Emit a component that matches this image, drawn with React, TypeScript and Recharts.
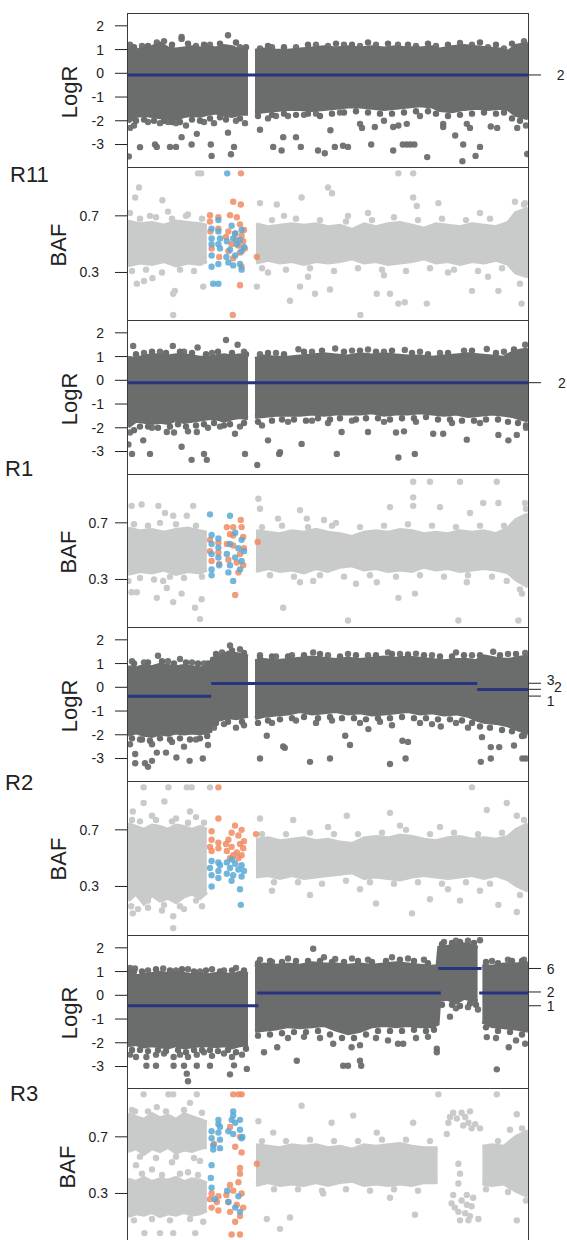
import { ComposedChart, Area, Line, Scatter, XAxis, YAxis } from 'recharts'

type Pt = [number, number]
type Band = [number, number | null, number | null]
type Seg = [number, number, number]

const SAMPLES = ['R11', 'R1', 'R2', 'R3']
const LOGR_TICKS = [-3, -2, -1, 0, 1, 2]
const BAF_TICKS = [0.3, 0.7]
const LOGR_DOMAIN = [-3.93, 2.54]
const BAF_DOMAIN = [-0.04, 1.045]

// ---------- R11 ----------
const R11_LOGR_BAND: Band[] = [
  [0, -2.05, 1.05], [2, -1.8, 0.95], [4, -1.75, 1.05], [6, -1.8, 1.1], [8, -1.85, 1.25], [10, -1.85, 1.05],
  [12, -1.9, 1.0], [14, -1.8, 1.05], [16, -1.75, 1.1], [18, -1.8, 1.05], [20, -1.7, 1.1], [22, -1.65, 1.05],
  [24, -1.75, 1.15], [26, -1.8, 1.1], [28, -1.7, 0.95], [30, -1.7, 0.95], [30.9, null, null],
  [31.75, -1.65, 0.95], [34, -1.6, 1.0], [37, -1.55, 0.95], [40, -1.5, 0.95], [43, -1.5, 1.0], [46, -1.55, 1.05],
  [49, -1.5, 1.1], [52, -1.45, 1.05], [55, -1.4, 1.1], [58, -1.4, 1.05], [61, -1.45, 1.1], [64, -1.5, 1.05],
  [67, -1.45, 1.1], [70, -1.4, 1.05], [73, -1.35, 1.05], [76, -1.4, 1.1], [78, -1.55, 1.0], [81, -1.6, 1.1],
  [84, -1.5, 1.15], [87, -1.45, 1.1], [90, -1.5, 1.05], [93, -1.45, 1.0], [95, -1.5, 0.9], [97, -1.75, 1.15],
  [100, -1.9, 1.25],
]
const R11_LOGR_PTS: Pt[] = [
  [0.5, 1.2], [3.5, 1.15], [7.2, 1.3], [9, 1.35], [13.4, 1.53], [13.4, 1.45], [17, 1.15], [20.5, 1.2], [25, 1.6],
  [28, 1.1], [33, 1.05], [36, 1.1], [42, 1.1], [47, 1.2], [50, 1.15], [54, 1.2], [58, 1.15], [62, 1.2], [67.5, 1.2],
  [72, 1.15], [77, 1.15], [83, 1.28], [86, 1.2], [90, 1.1], [94, 1.05], [99, 1.35],
  [0.5, -2.3], [1.5, -2.2], [5, -2.05], [8, -2.1], [10, -2.05], [12, -2.1], [14.5, -2.2], [17.2, -2.55], [19, -2.05],
  [21.5, -2.1], [25, -2.5], [27, -2.0], [29.25, -2.1], [33, -2.38], [35, -1.9], [37, -1.8], [40, -1.8], [44, -1.75],
  [47, -1.7], [50.6, -2.4], [53, -1.65], [58, -2.13], [58.5, -2.3], [61.7, -2.26], [64, -2.0], [66.3, -2.26],
  [67.6, -2.2], [69.7, -2.13], [73, -1.8], [78.8, -2.26], [78.8, -2.13], [81.8, -2.62], [84.7, -2.13], [85.5, -2.3],
  [90.7, -2.24], [92.3, -2.3], [97.3, -2.3], [99.5, -2.2],
  [0.2, -3.5], [3, -3.11], [6.75, -3.0], [7.2, -3.1], [10.5, -3.1], [12, -3.1], [13.4, -2.69], [15.9, -3.0],
  [20.7, -3.0], [20.9, -3.48], [25.75, -3.41], [26.5, -3.1], [36.3, -3.1], [38.4, -3.25], [38.8, -2.69], [42, -2.69],
  [43.2, -3.1], [47.5, -3.25], [49.2, -3.37], [51.7, -3.1], [53.75, -3.05], [55, -3.1], [60.8, -3.0], [66.3, -3.25],
  [68.7, -3.0], [69.7, -3.0], [70.6, -3.0], [71.6, -3.0], [74.8, -3.53], [83.6, -3.7], [86.9, -3.48], [83.8, -3.0],
  [88, -3.1], [99.8, -3.4],
]
const R11_LOGR_EDGE: Pt[] = [
  [1.5, 1.1], [5, 1.15], [11, 1.2], [15, 1.25], [19, 1.2], [23, 1.25], [27, 1.3], [29.5, 1.1], [35, 1.15],
  [39, 1.1], [45, 1.2], [52, 1.25], [56, 1.2], [60, 1.3], [65, 1.25], [70, 1.2], [75, 1.25], [80, 1.2], [88, 1.3],
  [92, 1.2], [96, 1.25],
  [2, -2.0], [4, -1.95], [6.5, -2.0], [9, -2.0], [11, -2.05], [13, -2.05], [16, -1.95], [18, -2.0], [20.5, -1.9],
  [23, -1.85], [24.5, -1.95], [28, -1.9], [32.5, -1.8], [36, -1.75], [39, -1.7], [42, -1.75], [45, -1.7], [48, -1.8],
  [51, -1.7], [54, -1.65], [57, -1.6], [60, -1.65], [63, -1.7], [66, -1.7], [69, -1.65], [72, -1.6], [75, -1.6],
  [77, -1.7], [80, -1.8], [83, -1.75], [86, -1.7], [89, -1.65], [92, -1.7], [94, -1.65], [96, -1.9], [98, -2.0],
]
const R11_SEGS: Seg[] = [[0, 100, -0.07]]
const R11_CN_VALUES = [-0.07]
const R11_CN_LABELS = ['2']
const R11_BAF_BAND: Band[] = [
  [0, 0.35, 0.66], [3, 0.37, 0.64], [6, 0.36, 0.65], [9, 0.38, 0.63], [12, 0.35, 0.66], [15, 0.37, 0.65],
  [18, 0.36, 0.64], [19.7, 0.38, 0.63], [25, null, null],
  [32, 0.37, 0.64], [35, 0.39, 0.62], [38, 0.37, 0.63], [41, 0.38, 0.64], [44, 0.36, 0.63], [47, 0.38, 0.64],
  [50, 0.37, 0.62], [53, 0.38, 0.63], [56, 0.4, 0.6], [59, 0.37, 0.64], [62, 0.38, 0.62], [65, 0.36, 0.64],
  [68, 0.37, 0.65], [71, 0.38, 0.63], [74, 0.4, 0.61], [77, 0.37, 0.64], [80, 0.38, 0.63], [83, 0.36, 0.62],
  [86, 0.38, 0.64], [89, 0.37, 0.63], [92, 0.39, 0.62], [95, 0.36, 0.65], [97, 0.3, 0.72], [100, 0.27, 0.75],
]
const R11_BAF_PTS: Pt[] = [
  [17.5, 1.0], [18.3, 1.0], [2.75, 0.9], [8.6, 0.81], [1.8, 0.83], [11.3, 0.0], [11.3, 0.15], [11.7, 0.17],
  [2.2, 0.22], [4.0, 0.24], [6.1, 0.26], [18.8, 0.2], [32.2, 0.2], [33, 0.79], [37.2, 0.78], [0.5, 0.72],
  [5.5, 0.7], [10, 0.73], [15, 0.71], [67.6, 1.0], [71.3, 1.0], [50, 0.9], [51, 0.86], [43.4, 0.83], [71.3, 0.83],
  [72.2, 0.77], [77.6, 0.79], [96.75, 0.8], [99.25, 0.79], [58.1, 0.0], [40.5, 0.1], [46.75, 0.15], [50.5, 0.18],
  [62.2, 0.15], [65.5, 0.15], [67.6, 0.08], [69.2, 0.09], [74.7, 0.08], [86, 0.17], [92.6, 0.17], [98.4, 0.08],
  [43, 0.2], [45, 0.27], [55, 0.7], [60, 0.72], [64, 0.28], [80, 0.3], [88, 0.72], [90, 0.27], [35, 0.3], [39, 0.7],
]
const R11_BAF_EDGE: Pt[] = [
  [1, 0.31], [3, 0.68], [4.5, 0.32], [7, 0.69], [8.5, 0.3], [11, 0.68], [13, 0.32], [14.5, 0.7], [16.5, 0.31],
  [18.5, 0.68], [33.5, 0.33], [36, 0.67], [39.5, 0.32], [42, 0.68], [45.5, 0.33], [48, 0.67], [51.5, 0.31],
  [54.5, 0.66], [57.5, 0.33], [61, 0.67], [63.5, 0.32], [66.5, 0.69], [69.5, 0.31], [72.5, 0.67], [75.5, 0.33],
  [78.5, 0.68], [81.5, 0.32], [84.5, 0.67], [87.5, 0.31], [90.5, 0.68], [93.5, 0.33], [98, 0.22], [99, 0.78],
]
const R11_ORANGE: Pt[] = [
  [20.5, 0.705], [22.6, 0.69], [20.5, 0.66], [22.6, 0.61], [20.6, 0.59], [20.9, 0.47], [22.8, 0.41], [26.3, 0.8],
  [28.2, 0.78], [25.5, 0.705], [27.2, 0.69], [28, 0.64], [25.1, 0.59], [26.8, 0.575], [28.4, 0.56], [28.8, 0.52],
  [25.9, 0.5], [27.6, 0.49], [29.2, 0.47], [25.1, 0.45], [28, 0.44], [26.3, 0.4], [28.4, 0.34], [28, 0.21],
  [26.2, 0.0], [28.25, 1.0], [32.2, 0.41], [24.5, 0.55], [27, 0.53], [29, 0.6],
]
const R11_BLUE: Pt[] = [
  [22.6, 0.67], [20.9, 0.61], [22.6, 0.59], [20.9, 0.54], [23, 0.54], [23, 0.47], [20.9, 0.42], [22.6, 0.36],
  [20.9, 0.34], [21.3, 0.22], [22.6, 0.22], [20.9, 0.5], [22.6, 0.5], [24.8, 1.0], [25.9, 0.63], [28.4, 0.6],
  [26.3, 0.54], [28, 0.53], [24.7, 0.52], [27.2, 0.5], [25.5, 0.46], [28.4, 0.45], [26.8, 0.42], [25.1, 0.37],
  [28, 0.36], [26.3, 0.35], [28.4, 0.32], [26.8, 0.575], [29, 0.48], [24.6, 0.41],
]

// ---------- R1 ----------
const R1_LOGR_BAND: Band[] = [
  [0, -1.95, 0.95], [2, -1.7, 0.9], [4, -1.75, 1.0], [6, -1.8, 1.05], [8, -1.75, 1.05], [10, -1.8, 1.0],
  [12, -1.65, 1.05], [14, -1.75, 1.05], [16, -1.7, 1.0], [18, -1.65, 0.95], [20, -1.6, 0.95], [22, -1.6, 1.0],
  [24, -1.7, 1.05], [26, -1.6, 1.0], [28, -1.55, 1.05], [30, -1.6, 0.95], [30.9, null, null],
  [31.75, -1.55, 0.9], [34, -1.5, 1.0], [37, -1.45, 0.95], [40, -1.45, 0.95], [43, -1.45, 1.0], [46, -1.4, 1.05],
  [49, -1.45, 1.1], [52, -1.4, 1.05], [55, -1.4, 1.0], [58, -1.4, 1.1], [61, -1.35, 1.05], [64, -1.45, 1.1],
  [67, -1.4, 1.05], [70, -1.4, 1.0], [73, -1.35, 1.0], [76, -1.4, 0.95], [79, -1.45, 1.0], [82, -1.4, 1.05],
  [85, -1.5, 1.1], [88, -1.45, 1.05], [91, -1.4, 1.0], [94, -1.45, 0.95], [96, -1.5, 1.15], [98, -1.6, 1.25],
  [100, -1.7, 1.3],
]
const R1_LOGR_PTS: Pt[] = [
  [1.3, 1.45], [4, 1.15], [8, 1.2], [11.2, 1.45], [14, 1.2], [17.4, 1.38], [21, 1.15], [24.5, 1.7], [27.4, 1.5],
  [29, 1.2], [33, 1.1], [37, 1.15], [42.6, 1.31], [46, 1.2], [51.8, 1.34], [56, 1.25], [60, 1.3], [64, 1.2],
  [69.2, 1.28], [73, 1.2], [78, 1.15], [84, 1.25], [89.7, 1.32], [94, 1.2], [99.3, 1.5],
  [0.1, -2.7], [0.5, -2.2], [3.8, -2.53], [6, -2.0], [9.7, -2.18], [11.5, -2.2], [13.4, -2.8], [15, -2.15],
  [17.2, -2.18], [20, -2.0], [23, -1.95], [26.75, -2.25], [28, -1.95], [35, -2.53], [33.5, -1.9], [40, -1.75],
  [43.4, -2.68], [46, -1.7], [50, -1.8], [53.4, -2.18], [56, -1.7], [60, -2.18], [64, -1.75], [67, -2.2],
  [69, -2.15], [72, -1.75], [76.3, -2.25], [78.8, -2.25], [81, -1.8], [84.7, -2.5], [88, -1.8], [92.6, -2.3],
  [95.1, -2.53], [97.2, -2.3], [99.5, -2.0],
  [1, -3.1], [5.5, -3.1], [15.9, -3.35], [19, -3.1], [19.7, -3.35], [29.25, -3.1], [32.3, -3.57], [37.8, -3.1],
  [38, -3.03], [52.2, -3.1], [67.6, -3.25], [71.7, -3.1],
]
const R1_LOGR_EDGE: Pt[] = [
  [2, 1.1], [6, 1.2], [9.5, 1.15], [13, 1.2], [16, 1.15], [19.5, 1.1], [22.5, 1.2], [26, 1.15], [29.5, 1.1],
  [35, 1.15], [39, 1.1], [44, 1.2], [48.5, 1.25], [54, 1.2], [58, 1.25], [62, 1.2], [66, 1.25], [71, 1.15],
  [75, 1.1], [80, 1.15], [86, 1.25], [92, 1.15], [96.5, 1.3],
  [1.5, -2.1], [3, -1.95], [5, -1.95], [7.5, -2.0], [10.5, -1.95], [12.5, -1.85], [14.5, -1.95], [17, -1.9],
  [19, -1.85], [21.5, -1.8], [24, -1.9], [25.5, -1.85], [29, -1.8], [32.5, -1.75], [36, -1.7], [38.5, -1.65],
  [41.5, -1.65], [44.5, -1.7], [47.5, -1.6], [50.5, -1.65], [53, -1.6], [57, -1.65], [59.5, -1.6], [62.5, -1.6],
  [65.5, -1.65], [68.5, -1.6], [71.5, -1.6], [74.5, -1.55], [77.5, -1.65], [80.5, -1.65], [83.5, -1.7],
  [86.5, -1.7], [89.5, -1.65], [92.5, -1.65], [95, -1.75], [97.5, -1.8], [99.5, -1.9],
]
const R1_SEGS: Seg[] = [[0, 100, -0.1]]
const R1_CN_VALUES = [-0.1]
const R1_CN_LABELS = ['2']
const R1_BAF_BAND: Band[] = [
  [0, 0.34, 0.66], [3, 0.36, 0.64], [6, 0.35, 0.65], [9, 0.37, 0.63], [12, 0.34, 0.65], [15, 0.36, 0.66],
  [18, 0.35, 0.64], [19.7, 0.37, 0.63], [25, null, null],
  [32, 0.36, 0.64], [35, 0.38, 0.63], [38, 0.36, 0.62], [41, 0.37, 0.64], [44, 0.35, 0.63], [47, 0.38, 0.65],
  [50, 0.36, 0.63], [53, 0.39, 0.62], [56, 0.4, 0.6], [59, 0.37, 0.63], [62, 0.38, 0.64], [65, 0.36, 0.63],
  [68, 0.37, 0.65], [71, 0.36, 0.64], [74, 0.39, 0.62], [77, 0.37, 0.63], [80, 0.38, 0.62], [83, 0.36, 0.64],
  [86, 0.37, 0.63], [89, 0.38, 0.64], [92, 0.37, 0.62], [95, 0.35, 0.66], [97, 0.3, 0.72], [100, 0.25, 0.76],
]
const R1_BAF_PTS: Pt[] = [
  [0.9, 0.82], [3.4, 0.83], [7.6, 0.82], [9.25, 0.77], [11.3, 0.75], [14.7, 0.75], [16.3, 0.82], [0.1, 0.29],
  [0.9, 0.21], [2.2, 0.21], [7.2, 0.17], [8.8, 0.29], [9.7, 0.24], [11.3, 0.14], [13.4, 0.2], [16.75, 0.1],
  [18, 0.02], [18.4, 0.16], [32.6, 0.87], [33, 0.8], [37.5, 0.73], [38.8, 0.1], [71.3, 0.99], [75.5, 0.99],
  [83, 0.99], [92.2, 0.99], [55, 0.01], [82.6, 0.01], [97.6, 0.01], [67.6, 0.17], [71.75, 0.2], [71.3, 0.88],
  [71.3, 0.82], [65.5, 0.81], [78, 0.81], [85.5, 0.77], [88.8, 0.84], [92.6, 0.84], [99.25, 0.84], [43, 0.79],
  [44.7, 0.73], [43, 0.28], [46.3, 0.29], [62.2, 0.28], [84.7, 0.28], [94.7, 0.29], [98, 0.23], [49, 0.72],
  [57, 0.27], [52, 0.7],
]
const R1_BAF_EDGE: Pt[] = [
  [1.5, 0.69], [3, 0.31], [5, 0.68], [6.5, 0.3], [8, 0.7], [10.5, 0.32], [12, 0.69], [14, 0.31], [17, 0.68],
  [18.5, 0.32], [33.5, 0.67], [35.5, 0.33], [38.5, 0.68], [41.5, 0.32], [45, 0.67], [48, 0.33], [51, 0.68],
  [54, 0.32], [58, 0.67], [60.5, 0.33], [64, 0.68], [67, 0.32], [70, 0.69], [73, 0.33], [76, 0.68], [79, 0.32],
  [82, 0.67], [85, 0.33], [88, 0.68], [91, 0.32], [94, 0.68], [98.5, 0.2], [99.5, 0.8],
]
const R1_ORANGE: Pt[] = [
  [20.5, 0.58], [22.6, 0.56], [20.5, 0.5], [22.6, 0.49], [20.9, 0.43], [22.8, 0.41], [24.7, 0.67], [26.3, 0.67],
  [28.2, 0.72], [28.4, 0.67], [26.3, 0.61], [28.8, 0.6], [24.7, 0.55], [26.3, 0.54], [28, 0.48], [25.1, 0.44],
  [27.2, 0.42], [28.8, 0.4], [26.8, 0.19], [27.6, 0.35], [32.4, 0.565], [25.5, 0.62], [29, 0.52],
]
const R1_BLUE: Pt[] = [
  [20.5, 0.76], [20.9, 0.614], [22.6, 0.59], [20.9, 0.55], [22.6, 0.525], [20.9, 0.48], [22.6, 0.455],
  [20.9, 0.37], [20.9, 0.33], [25.5, 0.75], [26.8, 0.63], [28.4, 0.58], [25.5, 0.55], [27.6, 0.52], [24.7, 0.48],
  [26.8, 0.455], [28.4, 0.43], [25.5, 0.4], [28, 0.37], [26.3, 0.29], [25.1, 0.35], [22.8, 0.4], [29, 0.5],
]

// ---------- R2 ----------
const R2_LOGR_BAND: Band[] = [
  [0, -2.0, 0.85], [2, -1.9, 0.8], [4, -2.0, 0.9], [6, -2.05, 0.85], [8, -1.95, 0.95], [10, -2.0, 0.9],
  [12, -1.9, 0.85], [14, -1.95, 0.9], [16, -1.9, 0.85], [18, -1.95, 0.8], [20.6, -1.85, 0.85], [21, -1.3, 1.2],
  [23, -1.35, 1.3], [25, -1.25, 1.45], [27, -1.3, 1.4], [30, -1.2, 1.3], [30.9, null, null],
  [31.75, -1.3, 1.1], [34, -1.2, 1.15], [37, -1.15, 1.1], [40, -1.1, 1.15], [43, -1.0, 1.2], [46, -1.1, 1.25],
  [49, -1.05, 1.2], [52, -1.0, 1.15], [55, -1.1, 1.2], [58, -1.05, 1.15], [61, -1.15, 1.2], [64, -1.1, 1.25],
  [67, -1.05, 1.2], [70, -1.0, 1.25], [73, -1.1, 1.2], [76, -1.05, 1.15], [79, -1.15, 1.1], [82, -1.1, 1.15],
  [85, -1.2, 1.15], [87, -1.35, 1.1], [89, -1.45, 1.3], [92, -1.5, 1.2], [95, -1.6, 1.15], [98, -1.8, 1.25],
  [100, -1.95, 1.3],
]
const R2_LOGR_PTS: Pt[] = [
  [1, 1.1], [4, 1.05], [7.5, 1.33], [10, 1.1], [13, 1.19], [16, 1.05], [19, 1.0], [23.5, 1.47], [25.5, 1.76],
  [28, 1.6], [33, 1.35], [37, 1.3], [41, 1.35], [46.3, 1.47], [50, 1.35], [55, 1.4], [60, 1.35], [65, 1.47],
  [68, 1.4], [72, 1.42], [76, 1.35], [82, 1.47], [86, 1.35], [91.3, 1.5], [95, 1.4], [99.3, 1.45],
  [0.5, -2.4], [1.8, -2.81], [3, -2.2], [6, -2.4], [7.2, -2.75], [9.5, -2.75], [11, -2.3], [14, -2.5], [17, -2.2],
  [20, -2.43], [21.5, -1.7], [24, -1.55], [27, -1.7], [29, -1.6], [34.7, -2.04], [36, -1.5], [39.2, -2.55],
  [38.8, -2.49], [42, -1.4], [47, -1.5], [51, -1.4], [54.3, -2.04], [55.5, -2.43], [58, -1.5], [60.1, -1.76],
  [63, -1.45], [66, -1.6], [68.6, -2.25], [70, -2.3], [73, -1.5], [76, -1.55], [78.2, -1.65], [82, -1.5],
  [85, -1.7], [88.5, -2.1], [90.7, -2.52], [92.8, -2.52], [96.5, -2.45], [99, -2.04],
  [1.8, -3.2], [4.25, -3.2], [5, -3.35], [6, -3.1], [12.1, -2.96], [15.4, -3.1], [18.7, -3.0], [33, -3.0],
  [45.5, -3.14], [50.5, -3.0], [65.5, -3.23], [69.4, -3.0], [88.2, -3.14], [90.7, -3.0], [98.6, -3.0], [99.5, -3.0],
]
const R2_LOGR_EDGE: Pt[] = [
  [1.5, 1.0], [5, 1.05], [8.5, 1.1], [11.5, 1.0], [14.5, 1.05], [17.5, 1.0], [20, 1.0], [22, 1.4], [26, 1.55],
  [29, 1.45], [33, 1.25], [36, 1.3], [40, 1.3], [44, 1.35], [48, 1.4], [53, 1.3], [57, 1.35], [62, 1.35],
  [66, 1.4], [70, 1.38], [74, 1.35], [78, 1.3], [81, 1.3], [84, 1.35], [88, 1.35], [93, 1.35], [97, 1.4],
  [1, -2.15], [3.5, -2.2], [5.5, -2.25], [8, -2.15], [10.5, -2.2], [13, -2.15], [15.5, -2.2], [18, -2.15],
  [19.8, -2.05], [22, -1.5], [25, -1.45], [28.5, -1.45], [32.5, -1.5], [35, -1.4], [38, -1.35], [41, -1.3],
  [44, -1.25], [47.5, -1.3], [50.5, -1.25], [53.5, -1.3], [56.5, -1.3], [59.5, -1.35], [62.5, -1.3], [65.5, -1.3],
  [68.5, -1.25], [71.5, -1.3], [74.5, -1.3], [77.5, -1.35], [80.5, -1.35], [83.5, -1.4], [86, -1.5], [88, -1.65],
  [90.5, -1.7], [93.5, -1.8], [96, -1.85], [98.5, -2.05],
]
const R2_SEGS: Seg[] = [[0, 20.8, -0.38], [20.8, 87.3, 0.16], [87.3, 100, -0.09]]
const R2_CN_VALUES = [0.17, -0.085, -0.37]
const R2_CN_LABELS = ['3', '2', '1']
const R2_BAF_BAND: Band[] = [
  [0, 0.2, 0.74], [2, 0.25, 0.72], [4, 0.18, 0.7], [6, 0.24, 0.73], [8, 0.2, 0.72], [10, 0.22, 0.7],
  [12, 0.19, 0.73], [14, 0.23, 0.72], [16, 0.25, 0.7], [18, 0.22, 0.72], [19.7, 0.26, 0.7], [25, null, null],
  [32, 0.37, 0.63], [35, 0.38, 0.64], [38, 0.36, 0.62], [41, 0.38, 0.63], [44, 0.36, 0.64], [47, 0.37, 0.62],
  [50, 0.38, 0.63], [53, 0.39, 0.61], [56, 0.4, 0.6], [59, 0.36, 0.64], [62, 0.37, 0.65], [65, 0.36, 0.64],
  [68, 0.35, 0.66], [71, 0.37, 0.65], [74, 0.38, 0.63], [77, 0.37, 0.62], [80, 0.36, 0.64], [83, 0.37, 0.65],
  [86, 0.38, 0.63], [89, 0.36, 0.64], [92, 0.38, 0.63], [95, 0.35, 0.65], [97, 0.31, 0.7], [100, 0.27, 0.74],
]
const R2_BAF_PTS: Pt[] = [
  [3.9, 1.0], [10.1, 1.0], [14.7, 1.0], [15.9, 1.0], [20.5, 1.0], [3.9, 0.89], [9.1, 0.9], [1.2, 0.83],
  [15.5, 0.83], [11.3, 0.006], [11.3, 0.09], [1.2, 0.11], [0.8, 0.16], [2.5, 0.14], [6, 0.8], [12, 0.78],
  [17, 0.79], [5, 0.15], [8.5, 0.13], [14, 0.14], [18.5, 0.16], [86, 1.0], [94.7, 0.89], [89.7, 0.84],
  [97.2, 0.8], [65.5, 0.82], [54.7, 0.8], [41.3, 0.77], [71, 0.11], [62, 0.18], [75.5, 0.21], [92.6, 0.17],
  [97.2, 0.12], [45.5, 0.24], [83, 0.2], [33, 0.78], [36, 0.27], [50, 0.72], [58, 0.28], [68, 0.73], [78, 0.72],
  [80, 0.28], [88, 0.27],
]
const R2_BAF_EDGE: Pt[] = [
  [1, 0.77], [3, 0.76], [5, 0.2], [7, 0.77], [9, 0.17], [11, 0.76], [13, 0.16], [15, 0.75], [17, 0.2],
  [19, 0.75], [33.5, 0.67], [36.5, 0.33], [39.5, 0.67], [42.5, 0.33], [45.5, 0.68], [48.5, 0.32], [51.5, 0.67],
  [54.5, 0.34], [57.5, 0.67], [60.5, 0.33], [63.5, 0.68], [66.5, 0.32], [69.5, 0.7], [72.5, 0.33], [75.5, 0.67],
  [78.5, 0.32], [81.5, 0.68], [84.5, 0.33], [87.5, 0.67], [90.5, 0.32], [93.5, 0.68], [98, 0.24], [99, 0.77],
]
const R2_ORANGE: Pt[] = [
  [22.6, 1.0], [22.6, 0.78], [20.9, 0.69], [20.9, 0.63], [22.6, 0.61], [20.5, 0.58], [22.6, 0.57], [20.9, 0.55],
  [26.75, 0.73], [28.4, 0.7], [25.9, 0.68], [27.6, 0.66], [25.1, 0.63], [28, 0.6], [25.9, 0.58], [28.8, 0.57],
  [24.7, 0.55], [27.2, 0.54], [26.3, 0.52], [28.4, 0.52], [25.5, 0.5], [27.6, 0.5], [32, 0.67], [29, 0.62],
  [24.5, 0.6],
]
const R2_BLUE: Pt[] = [
  [20.9, 0.48], [22.6, 0.47], [20.5, 0.43], [22.6, 0.41], [20.9, 0.38], [22.6, 0.36], [20.9, 0.3], [24.7, 0.47],
  [26.8, 0.46], [28.4, 0.45], [25.5, 0.43], [27.6, 0.42], [24.7, 0.39], [26.3, 0.38], [28.4, 0.37], [25.9, 0.34],
  [28, 0.28], [28.2, 0.17], [23, 0.45], [29, 0.41], [26, 0.49],
]

// ---------- R3 ----------
const R3_LOGR_BAND: Band[] = [
  [0, -2.1, 1.1], [2, -2.05, 0.8], [4, -2.15, 0.85], [6, -2.1, 0.9], [8, -2.15, 0.95], [10, -2.2, 0.9],
  [12, -2.1, 0.95], [14, -2.2, 0.9], [16, -2.15, 0.85], [18, -2.1, 0.9], [20, -2.1, 0.85], [22, -2.15, 0.9],
  [24, -2.1, 0.9], [26, -2.2, 0.85], [28, -2.1, 0.95], [30, -2.05, 0.9], [30.9, null, null],
  [31.75, -1.5, 1.2], [34, -1.45, 1.3], [37, -1.4, 1.25], [40, -1.3, 1.3], [43, -1.35, 1.25], [46, -1.3, 1.35],
  [49, -1.25, 1.3], [52, -1.45, 1.3], [55, -1.6, 1.25], [58, -1.5, 1.3], [61, -1.3, 1.25], [64, -1.25, 1.3],
  [67, -1.3, 1.35], [70, -1.25, 1.3], [73, -1.3, 1.25], [76, -1.3, 1.2], [77.4, -1.2, 1.25], [77.8, -0.2, 2.0],
  [80, -0.15, 2.05], [82, -0.3, 2.1], [84, -0.1, 2.15], [86, -0.2, 2.1], [87.4, -0.25, 2.0], [88, null, null],
  [88.6, -1.1, 1.25], [91, -1.3, 1.2], [94, -1.35, 1.3], [97, -1.4, 1.3], [100, -1.5, 1.35],
]
const R3_LOGR_PTS: Pt[] = [
  [0.5, 1.15], [1.75, 1.13], [5, 1.05], [8.8, 1.13], [12, 1.05], [15, 1.1], [18, 1.0], [21, 1.1], [24, 1.05],
  [27, 1.15], [33, 1.5], [36, 1.4], [40, 1.55], [46.3, 1.96], [49, 1.6], [51.8, 1.53], [56, 1.55], [60, 1.5],
  [66, 1.6], [70, 1.55], [74, 1.5], [79, 2.25], [82, 2.3], [85, 2.3], [88, 2.32], [91, 1.45], [95, 1.5], [99, 1.5],
  [0.5, -2.5], [2, -2.6], [4.6, -2.6], [7, -2.5], [9, -2.45], [11.4, -2.6], [13, -2.5], [15, -2.6], [17.2, -2.5],
  [19, -2.4], [21, -2.55], [24, -2.45], [26, -2.6], [28.5, -2.5], [34, -2.4], [37.3, -2.19], [40, -1.8],
  [44, -1.75], [48, -1.8], [51.3, -2.04], [55.9, -2.19], [58, -2.1], [62, -1.8], [65, -1.9], [67.5, -2.04],
  [68.8, -2.04], [72, -1.8], [75, -1.75], [77.2, -2.25], [77.2, -2.4], [80.5, -0.9], [82, -0.55], [85, -0.5],
  [87.5, -0.6], [89.7, -1.76], [92, -1.8], [95.2, -2.19], [97, -1.9], [99.3, -2.04],
  [4.6, -2.97], [7, -2.97], [11.4, -2.97], [14, -2.97], [14.7, -3.3], [15, -3.62], [17.2, -2.97], [20.5, -2.97],
  [25.5, -3.33], [26.5, -2.95], [29.7, -3.1], [42.2, -2.76], [53.8, -2.97], [55, -2.97], [58, -2.76],
  [58.3, -2.97], [92.2, -3.12],
]
const R3_LOGR_EDGE: Pt[] = [
  [1.5, 1.0], [3.5, 1.0], [7, 1.1], [10.5, 1.05], [13.5, 1.1], [16.5, 1.0], [19.5, 1.05], [23, 1.0], [26, 1.05],
  [29, 1.05], [32.5, 1.35], [35.5, 1.45], [38.5, 1.4], [42, 1.45], [45, 1.45], [48, 1.45], [51, 1.4], [54, 1.4],
  [57.5, 1.45], [61, 1.4], [64.5, 1.45], [68, 1.5], [71.5, 1.45], [75, 1.35], [78.5, 2.15], [81, 2.2],
  [83, 2.25], [86.5, 2.2], [89.5, 1.4], [92.5, 1.35], [96, 1.45], [98.5, 1.45],
  [1, -2.3], [3, -2.3], [5, -2.35], [7.5, -2.3], [9.5, -2.35], [12.5, -2.3], [14.5, -2.4], [16.5, -2.3],
  [18.5, -2.3], [20.5, -2.3], [22.5, -2.35], [25, -2.3], [27, -2.4], [29.5, -2.25], [32.5, -1.7], [35.5, -1.65],
  [38.5, -1.6], [41.5, -1.55], [44.5, -1.55], [47.5, -1.5], [50.5, -1.65], [53.5, -1.8], [56.5, -1.8],
  [59.5, -1.65], [62.5, -1.5], [65.5, -1.5], [68.5, -1.5], [71.5, -1.45], [74.5, -1.5], [76.5, -1.45],
  [78.5, -0.4], [81, -0.4], [83, -0.45], [85.5, -0.35], [87, -0.4], [89.5, -1.35], [92.5, -1.5], [95.5, -1.55],
  [98.5, -1.65],
]
const R3_SEGS: Seg[] = [[0, 32.6, -0.44], [32.2, 78.2, 0.1], [77.6, 88.4, 1.13], [87.8, 100, 0.1]]
const R3_CN_VALUES = [1.13, 0.14, -0.44]
const R3_CN_LABELS = ['6', '2', '1']
const R3_BAF_BAND: Band[] = [
  [32, 0.36, 0.64], [35, 0.38, 0.63], [38, 0.36, 0.62], [41, 0.37, 0.64], [44, 0.36, 0.63], [47, 0.38, 0.64],
  [50, 0.36, 0.62], [53, 0.38, 0.63], [56, 0.39, 0.61], [59, 0.36, 0.64], [62, 0.37, 0.63], [65, 0.36, 0.64],
  [68, 0.37, 0.65], [71, 0.36, 0.63], [74, 0.38, 0.62], [77.4, 0.38, 0.62], [83, null, null],
  [88.6, 0.37, 0.63], [91, 0.36, 0.64], [94, 0.37, 0.63], [97, 0.32, 0.7], [100, 0.28, 0.74],
]
const R3_BAF_UP: Band[] = [
  [0, 0.6, 0.86], [2, 0.62, 0.84], [4, 0.58, 0.82], [6, 0.62, 0.86], [8, 0.6, 0.83], [10, 0.63, 0.85],
  [12, 0.59, 0.82], [14, 0.61, 0.86], [16, 0.6, 0.84], [18, 0.62, 0.82], [19.7, 0.63, 0.8],
]
const R3_BAF_LOW: Band[] = [
  [0, 0.14, 0.4], [2, 0.16, 0.38], [4, 0.15, 0.41], [6, 0.17, 0.38], [8, 0.14, 0.4], [10, 0.16, 0.39],
  [12, 0.15, 0.41], [14, 0.17, 0.38], [16, 0.15, 0.4], [18, 0.16, 0.39], [19.7, 0.18, 0.37],
]
const R3_BAF_PTS: Pt[] = [
  [3.9, 1.0], [10.1, 1.0], [11.3, 1.0], [17.2, 1.0], [1.75, 0.88], [7.2, 0.91], [15.5, 0.94], [4.1, 0.02],
  [8, 0.02], [11.3, 0.02], [16.8, 0.02], [18.8, 0.1], [2, 0.5], [6, 0.47], [11, 0.52], [15, 0.45], [18, 0.53],
  [32.6, 0.81], [36.3, 0.73], [38, 0.05], [34.7, 0.12], [77.6, 1.0], [92.2, 1.0], [43.4, 0.92], [50.9, 0.8],
  [56.3, 0.85], [62.2, 0.73], [71.3, 0.8], [40.5, 0.13], [71.75, 0.15], [97.2, 0.11], [97.2, 0.86], [95.5, 0.75],
  [48.8, 0.3], [65.5, 0.27], [80.1, 0.8], [81.3, 0.87], [83.4, 0.87], [85.5, 0.88], [85.1, 0.8], [85.9, 0.76],
  [83.8, 0.78], [82.2, 0.83], [79.7, 0.72], [88, 0.76], [82.6, 0.51], [83, 0.44], [82.6, 0.37], [80.9, 0.23],
  [81.7, 0.2], [83.4, 0.25], [84.7, 0.22], [85.9, 0.21], [84.3, 0.16], [85.5, 0.14], [83, 0.11], [85.1, 0.11],
  [87.6, 0.12], [81.3, 0.29], [84.7, 0.29], [86.3, 0.27], [80.5, 0.84], [84.3, 0.84], [82.6, 0.17], [86.8, 0.79],
]
const R3_BAF_EDGE: Pt[] = [
  [1, 0.89], [3, 0.56], [5, 0.88], [7, 0.55], [9.5, 0.88], [12, 0.56], [14, 0.89], [16.5, 0.55], [18.5, 0.87],
  [1.5, 0.11], [3.5, 0.44], [6, 0.12], [8.5, 0.43], [10.5, 0.11], [13, 0.44], [15.5, 0.12], [17.5, 0.43],
  [33.5, 0.67], [36.5, 0.33], [39.5, 0.67], [42.5, 0.33], [45.5, 0.68], [48.5, 0.32], [51.5, 0.67], [54.5, 0.33],
  [57.5, 0.67], [60.5, 0.32], [63.5, 0.68], [66.5, 0.33], [69.5, 0.68], [72.5, 0.32], [75.5, 0.67],
  [89.5, 0.33], [92.5, 0.67], [95, 0.31], [98.5, 0.76], [99.5, 0.25],
]
const R3_ORANGE: Pt[] = [
  [20.9, 0.3], [22.6, 0.28], [20.5, 0.26], [22.2, 0.24], [20.9, 0.2], [22.6, 0.18], [26.3, 1.0], [28.4, 1.0],
  [27.6, 1.0], [25.5, 0.77], [28, 0.7], [26.8, 0.63], [28.4, 0.59], [28, 0.48], [28, 0.44], [27.6, 0.38],
  [25.5, 0.36], [26.3, 0.32], [28.4, 0.3], [25.1, 0.24], [27.2, 0.22], [28.8, 0.2], [25.5, 0.17], [28, 0.14],
  [26.8, 0.1], [25.9, 0.01], [28, 0.01], [32.2, 0.51], [21.5, 0.65], [24.6, 0.29],
]
const R3_BLUE: Pt[] = [
  [22.6, 0.82], [22.6, 0.79], [23, 0.77], [20.9, 0.74], [22.6, 0.73], [20.9, 0.69], [23, 0.68], [21.3, 0.64],
  [23, 0.62], [21.3, 0.61], [20.9, 0.5], [20.7, 0.41], [20.9, 0.34], [21.7, 0.26], [26.3, 0.88], [26.3, 0.85],
  [25.9, 0.82], [28, 0.82], [26.8, 0.8], [25.1, 0.74], [28, 0.75], [26.3, 0.72], [28.4, 0.69], [27.6, 0.28],
  [25.1, 0.24], [26.8, 0.2], [28, 0.17], [28.6, 0.7], [24.8, 0.32],
]

// ---------- styling / layout ----------
const FONT = '"Liberation Sans", Arial, Helvetica, sans-serif'
const DARK = '#6b6d6d'
const LIGHT = '#c9caca'
const ORANGE = '#f08b62'
const BLUE = '#5aa9d6'
const NAVY = '#27347f'
const INK = '#222'
const FRAME = '#3a3a3a'

const W = 567
const H = 153.6
const TOP = 13

const NAME_POS = [[10, 163.5], [5, 458.3], [5, 771.8], [10, 1082.6]]
const BAF_TITLE_X = [59, 69, 59, 68]
const BAF_TICK_MARGIN = [16, 7, 16, 7]
const CN_OFFSETS: Pt[][] = [
  [[15.7, 0]],
  [[17, 0]],
  [[5.7, -3.7], [13, -2], [5.7, 5.2]],
  [[5.7, 0], [5.7, 0], [5.7, 0]],
]

const toXY = (arr: Pt[]) => arr.map(([x, y]) => ({ x, y }))
const dot = (fill: string, op = 1) => (p: any) =>
  p.cx == null ? <g /> : <circle cx={p.cx} cy={p.cy} r={3.2} fill={fill} fillOpacity={op} />

type LogRProps = {
  top: number
  band: Band[]
  pts: Pt[]
  edge: Pt[]
  segs: Seg[]
  cnValues: number[]
  cnLabels: string[]
  cnOffsets: Pt[]
}

function LogRPanel({ top, band, pts, edge, segs, cnValues, cnLabels, cnOffsets }: LogRProps) {
  const data = band.map(([x, lo, hi]) => ({ x, band: lo == null || hi == null ? null : [lo, hi] }))
  const cnTick = (p: any) => {
    const i = cnValues.indexOf(p.payload.value)
    const [dx, dy] = cnOffsets[i] ?? [6, 0]
    return (
      <text x={p.x + dx} y={p.y + dy} dy='0.36em' fontSize={14} fill={INK} fontFamily={FONT}>
        {cnLabels[i]}
      </text>
    )
  }
  return (
    <div style={{ position: 'absolute', left: 0, top }}>
      <ComposedChart width={W} height={H} data={data} margin={{ top: 0, right: 0, bottom: 0, left: 68 }}>
        <XAxis type='number' dataKey='x' domain={[0, 100]} allowDataOverflow hide />
        <YAxis
          yAxisId='l'
          type='number'
          domain={LOGR_DOMAIN}
          allowDataOverflow
          ticks={LOGR_TICKS}
          interval={0}
          width={60}
          axisLine={false}
          tickLine={{ stroke: INK }}
          tickSize={13}
          tickMargin={11}
          tick={{ fontSize: 14, fill: INK, fontFamily: FONT }}
        />
        <YAxis
          yAxisId='r'
          orientation='right'
          type='number'
          domain={LOGR_DOMAIN}
          allowDataOverflow
          ticks={cnValues}
          interval={0}
          width={39}
          axisLine={false}
          tickLine={{ stroke: INK }}
          tickSize={13}
          tickMargin={0}
          tick={cnTick}
        />
        <Area
          yAxisId='l'
          dataKey='band'
          type='linear'
          stroke={DARK}
          strokeWidth={4}
          fill={DARK}
          fillOpacity={1}
          isAnimationActive={false}
        />
        <Scatter yAxisId='l' data={toXY(edge)} dataKey='y' shape={dot(DARK)} isAnimationActive={false} />
        <Scatter yAxisId='l' data={toXY(pts)} dataKey='y' shape={dot(DARK, 0.95)} isAnimationActive={false} />
        {segs.map(([x1, x2, y], i) => (
          <Line
            key={i}
            yAxisId='l'
            data={[{ x: x1, y }, { x: x2, y }]}
            dataKey='y'
            type='linear'
            stroke={NAVY}
            strokeWidth={3}
            dot={false}
            isAnimationActive={false}
          />
        ))}
      </ComposedChart>
    </div>
  )
}

type BafProps = {
  top: number
  bands: Band[][]
  gray: Pt[]
  edge: Pt[]
  orange: Pt[]
  blue: Pt[]
  tickMargin: number
}

function BafPanel({ top, bands, gray, edge, orange, blue, tickMargin }: BafProps) {
  const data = bands.flatMap((b, k) =>
    b.map(([x, lo, hi]) => ({ x, ['b' + k]: lo == null || hi == null ? null : [lo, hi] })),
  )
  return (
    <div style={{ position: 'absolute', left: 0, top }}>
      <ComposedChart width={W} height={H} data={data} margin={{ top: 0, right: 39, bottom: 0, left: 68 }}>
        <XAxis type='number' dataKey='x' domain={[0, 100]} allowDataOverflow hide />
        <YAxis
          yAxisId='l'
          type='number'
          domain={BAF_DOMAIN}
          allowDataOverflow
          ticks={BAF_TICKS}
          interval={0}
          width={60}
          axisLine={false}
          tickLine={{ stroke: INK }}
          tickSize={13}
          tickMargin={tickMargin}
          tick={{ fontSize: 14, fill: INK, fontFamily: FONT }}
        />
        {bands.map((_, k) => (
          <Area
            key={k}
            yAxisId='l'
            dataKey={'b' + k}
            type='linear'
            stroke={LIGHT}
            strokeWidth={4}
            fill={LIGHT}
            fillOpacity={1}
            isAnimationActive={false}
          />
        ))}
        <Scatter yAxisId='l' data={toXY(edge)} dataKey='y' shape={dot(LIGHT)} isAnimationActive={false} />
        <Scatter yAxisId='l' data={toXY(gray)} dataKey='y' shape={dot(LIGHT)} isAnimationActive={false} />
        <Scatter yAxisId='l' data={toXY(orange)} dataKey='y' shape={dot(ORANGE, 0.85)} isAnimationActive={false} />
        <Scatter yAxisId='l' data={toXY(blue)} dataKey='y' shape={dot(BLUE, 0.85)} isAnimationActive={false} />
      </ComposedChart>
    </div>
  )
}

const LOGR = [
  { band: R11_LOGR_BAND, pts: R11_LOGR_PTS, edge: R11_LOGR_EDGE, segs: R11_SEGS, cnValues: R11_CN_VALUES, cnLabels: R11_CN_LABELS },
  { band: R1_LOGR_BAND, pts: R1_LOGR_PTS, edge: R1_LOGR_EDGE, segs: R1_SEGS, cnValues: R1_CN_VALUES, cnLabels: R1_CN_LABELS },
  { band: R2_LOGR_BAND, pts: R2_LOGR_PTS, edge: R2_LOGR_EDGE, segs: R2_SEGS, cnValues: R2_CN_VALUES, cnLabels: R2_CN_LABELS },
  { band: R3_LOGR_BAND, pts: R3_LOGR_PTS, edge: R3_LOGR_EDGE, segs: R3_SEGS, cnValues: R3_CN_VALUES, cnLabels: R3_CN_LABELS },
]
const BAF = [
  { bands: [R11_BAF_BAND], gray: R11_BAF_PTS, edge: R11_BAF_EDGE, orange: R11_ORANGE, blue: R11_BLUE },
  { bands: [R1_BAF_BAND], gray: R1_BAF_PTS, edge: R1_BAF_EDGE, orange: R1_ORANGE, blue: R1_BLUE },
  { bands: [R2_BAF_BAND], gray: R2_BAF_PTS, edge: R2_BAF_EDGE, orange: R2_ORANGE, blue: R2_BLUE },
  { bands: [R3_BAF_BAND, R3_BAF_UP, R3_BAF_LOW], gray: R3_BAF_PTS, edge: R3_BAF_EDGE, orange: R3_ORANGE, blue: R3_BLUE },
]

const title = (text: string, cx: number, cy: number) => (
  <div
    style={{
      position: 'absolute',
      left: cx,
      top: cy,
      transform: 'translate(-50%, -50%) rotate(-90deg)',
      fontFamily: FONT,
      fontSize: 22,
      lineHeight: '22px',
      color: INK,
      whiteSpace: 'nowrap',
    }}>
    {text}
  </div>
)

export default function App() {
  return (
    <div style={{ position: 'absolute', left: 0, top: 0, width: W, height: 1240, overflow: 'hidden', background: '#fff' }}>
      {SAMPLES.map((name, s) => {
        const logTop = TOP + 2 * s * H
        const bafTop = logTop + H
        return (
          <div key={name}>
            <LogRPanel top={logTop} {...LOGR[s]} cnOffsets={CN_OFFSETS[s]} />
            <BafPanel top={bafTop} {...BAF[s]} tickMargin={BAF_TICK_MARGIN[s]} />
            {title('LogR', 69.7, logTop + H / 2 + 2)}
            {title('BAF', BAF_TITLE_X[s], bafTop + H / 2 + 1.5)}
            <div
              style={{
                position: 'absolute',
                left: NAME_POS[s][0],
                top: NAME_POS[s][1],
                fontFamily: FONT,
                fontSize: 22,
                lineHeight: '22px',
                color: INK,
              }}>
              {name}
            </div>
          </div>
        )
      })}
      {Array.from({ length: 8 }, (_, i) => (
        <div
          key={i}
          style={{
            position: 'absolute',
            left: 127,
            top: TOP + i * H,
            width: 402,
            height: H + 1,
            boxSizing: 'border-box',
            borderTop: `1px solid ${FRAME}`,
            borderLeft: `1px solid ${FRAME}`,
            borderRight: `1px solid ${FRAME}`,
            pointerEvents: 'none',
          }}
        />
      ))}
    </div>
  )
}
